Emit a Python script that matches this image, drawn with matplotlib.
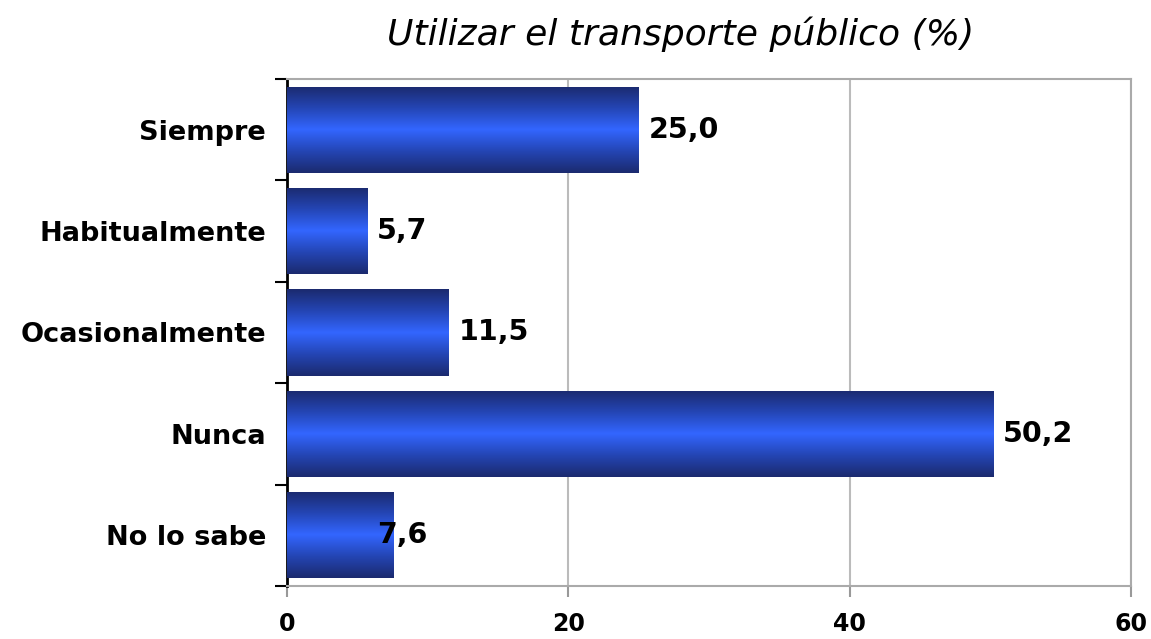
import matplotlib
matplotlib.use("Agg")
import matplotlib.pyplot as plt
import numpy as np
from matplotlib.colors import LinearSegmentedColormap

categories = ["Siempre", "Habitualmente", "Ocasionalmente", "Nunca", "No lo sabe"]
values = [25.0, 5.7, 11.5, 50.2, 7.6]
value_labels = ["25,0", "5,7", "11,5", "50,2", "7,6"]
x_ticks = [0, 20, 40, 60]
title = "Utilizar el transporte público (%)"

plt.rcParams['font.family'] = ['DejaVu Sans']

fig = plt.figure(figsize=(11.51, 6.39), dpi=100)
ax = fig.add_axes([287/1151, 1-586/639, (1131-287)/1151, (586-79)/639])

y = np.arange(len(categories))
bars = ax.barh(y, values, height=0.85, color="#3366ff", edgecolor="none", zorder=2)

cmap = LinearSegmentedColormap.from_list(
    "g", ["#1b2a6e", "#2445b4", "#3366ff", "#2445b4", "#1b2a6e"])
grad = np.linspace(0, 1, 256).reshape(-1, 1)
for b in bars:
    x0, y0 = b.get_x(), b.get_y()
    w, h = b.get_width(), b.get_height()
    im = ax.imshow(grad, cmap=cmap, aspect="auto", extent=[x0, x0 + w, y0, y0 + h],
                   origin="lower", zorder=3, interpolation="bilinear")
    im.set_clip_path(b)

label_offsets = [7, 7, 7, 7, -12]
for yi, v, lab, off in zip(y, values, value_labels, label_offsets):
    ax.annotate(lab, (v, yi), xytext=(off, 0), textcoords="offset points",
                ha="left", va="center", fontsize=20.5, fontweight="bold", zorder=5)

ax.set_xlim(0, 60)
ax.set_ylim(len(categories) - 0.5, -0.5)
ax.set_xticks(x_ticks)
ax.set_xticklabels([str(t) for t in x_ticks], fontsize=17, fontweight="bold")
ax.set_yticks(y)
ax.set_yticklabels(categories, fontsize=19.5, fontweight="bold")
ax.tick_params(axis="y", length=0, pad=15)
ax.set_yticks(np.arange(-0.5, len(categories), 1), minor=True)
ax.tick_params(axis="y", which="minor", length=9, width=1.5, color="black", direction="out")
ax.tick_params(axis="x", length=8, width=1.5, color="#999999", direction="out", pad=11)

ax.grid(axis="x", color="#bbbbbb", linewidth=1.5, zorder=0)
ax.set_axisbelow(True)
for s in ["top", "right", "bottom"]:
    ax.spines[s].set_color("#aaaaaa")
    ax.spines[s].set_linewidth(1.5)
ax.spines["left"].set_color("black")
ax.spines["left"].set_linewidth(2)

fig.text(681/1151, 1 - 34/639, title, ha="center", va="center", fontsize=26, fontstyle="italic")

fig.savefig("out.png", dpi=100)
